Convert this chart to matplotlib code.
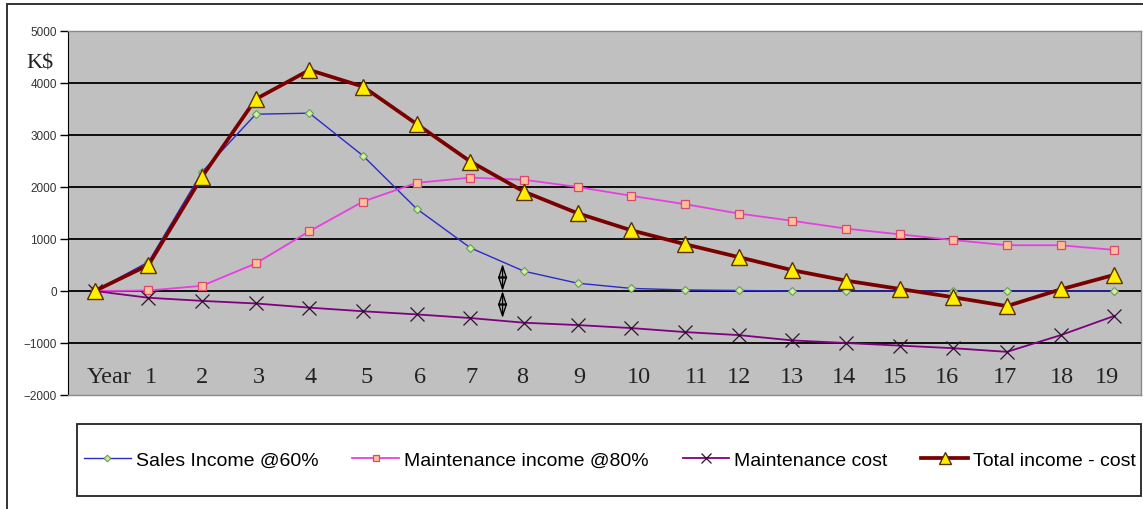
import matplotlib
matplotlib.use("Agg")
import matplotlib.pyplot as plt
from matplotlib.patches import Rectangle
from matplotlib.lines import Line2D

# Years on the category axis
years = list(range(20))
year_labels = ["1", "2", "3", "4", "5", "6", "7", "8", "9", "10",
               "11", "12", "13", "14", "15", "16", "17", "18", "19"]

# Series values, K$
sales_income = [0, 560, 2290, 3400, 3420, 2600, 1580, 830, 380, 150,
                50, 20, 10, 0, 0, 0, 0, 0, 0, 0]
maint_income = [0, 10, 100, 530, 1150, 1720, 2080, 2180, 2140, 2000,
                1830, 1670, 1490, 1350, 1200, 1090, 980, 880, 880, 790]
maint_cost = [0, -130, -190, -240, -320, -390, -450, -520, -610, -655,
              -713, -790, -848, -950, -1000, -1050, -1100, -1170, -850, -480]
total = [0, 500, 2200, 3690, 4250, 3930, 3210, 2490, 1910, 1495,
         1167, 900, 652, 400, 200, 40, -120, -290, 30, 310]

series_names = ["Sales Income @60%", "Maintenance income @80%",
                "Maintenance cost", "Total income - cost"]

W, H = 1143, 510
fig = plt.figure(figsize=(W / 100, H / 100), dpi=100)
fig.patch.set_facecolor("white")

# outer chart frame
fig.add_artist(Rectangle((7 / W, -0.05), 1.2, (H - 5) / H + 0.05,
                         transform=fig.transFigure, fill=False,
                         edgecolor="#333333", linewidth=1.4))

ax = fig.add_axes([68 / W, (H - 396) / H, (1141 - 68) / W, (396 - 32) / H])
ax.set_facecolor("#C0C0C0")
ax.set_xlim(-0.5, 19.5)
ax.set_ylim(-2000, 5000)
ax.set_yticks(range(-2000, 5001, 1000))
ax.set_xticks([])
for v in range(-1000, 5000, 1000):
    ax.axhline(v, color="black", linewidth=1.3, zorder=1)

ax.tick_params(axis="y", direction="out", length=6, width=1.0,
               labelsize=8.5, labelcolor="#333333", pad=2)
for lab in ax.get_yticklabels():
    lab.set_fontfamily(["Liberation Sans", "DejaVu Sans"])
ax.spines["left"].set_color("black")
for s in ("top", "right", "bottom"):
    ax.spines[s].set_color("#8a8a8a")
    ax.spines[s].set_linewidth(1.0)

l1, = ax.plot(years, sales_income, color="#2b2bc8", linewidth=1.0,
              marker="D", markersize=4.5, markerfacecolor="#ccf0a0",
              markeredgecolor="#6a9a5a", markeredgewidth=0.8, zorder=3)
l2, = ax.plot(years, maint_income, color="#e840e0", linewidth=1.3,
              marker="s", markersize=5.5, markerfacecolor="#ffbf99",
              markeredgecolor="#d84870", markeredgewidth=0.9, zorder=4)
l3, = ax.plot(years, maint_cost, color="#800080", linewidth=1.3,
              marker="x", markersize=10, markeredgecolor="#301030",
              markeredgewidth=0.9, zorder=5)
l4, = ax.plot(years, total, color="#7a0000", linewidth=2.7,
              marker="^", markersize=12, markerfacecolor="#ffee00",
              markeredgecolor="#5a3000", markeredgewidth=1.0, zorder=6)

# double arrows between the sales curve and the cost curve
x_arrow = 7.6
for y0, y1 in ((0, 520), (0, -520)):
    ax.annotate("", xy=(x_arrow, y1), xytext=(x_arrow, y0),
                arrowprops=dict(arrowstyle="<|-|>,head_length=0.85,head_width=0.28",
                                facecolor="none", edgecolor="black",
                                linewidth=1.0, shrinkA=0, shrinkB=0),
                zorder=7)

# year labels written inside the plot area (hand-placed text boxes)
label_x = [1.05, 2.0, 3.06, 4.03, 5.06, 6.06, 7.03, 7.96, 9.03, 10.15,
           11.21, 12.01, 13.0, 13.97, 14.91, 15.88, 16.97, 18.03, 18.87]
serif = ["Liberation Serif", "DejaVu Serif"]
ax.text(0.27, -1650, "Year", fontsize=17.5, family=serif, ha="center",
        va="center", color="#222222", zorder=8)
for x, lab in zip(label_x, year_labels):
    ax.text(x, -1650, lab, fontsize=17.5, family=serif, ha="center",
            va="center", color="#222222", zorder=8)

fig.text(40 / W, 1 - 64 / H, "K$", fontsize=16, family=serif,
         ha="center", va="center", color="#222222")

# legend box
fig.add_artist(Rectangle((77 / W, (H - 497) / H), (1141 - 77) / W, 72 / H,
                         transform=fig.transFigure, fill=True, facecolor="white",
                         edgecolor="#222222", linewidth=1.3))
handles = [Line2D([], [], color=h.get_color(), linewidth=h.get_linewidth(),
                  marker=h.get_marker(), markersize=h.get_markersize() * 0.75,
                  markerfacecolor=h.get_markerfacecolor(),
                  markeredgecolor=h.get_markeredgecolor(),
                  markeredgewidth=h.get_markeredgewidth())
           for h in (l1, l2, l3, l4)]
fig.legend(handles, series_names, loc="center", ncol=4,
           bbox_to_anchor=(610 / W, 1 - 461 / H), frameon=False,
           handlelength=2.4, handletextpad=0.25, columnspacing=1.75,
           prop={"family": ["Liberation Sans", "DejaVu Sans"], "size": 14})

fig.savefig("out.png", dpi=100)
